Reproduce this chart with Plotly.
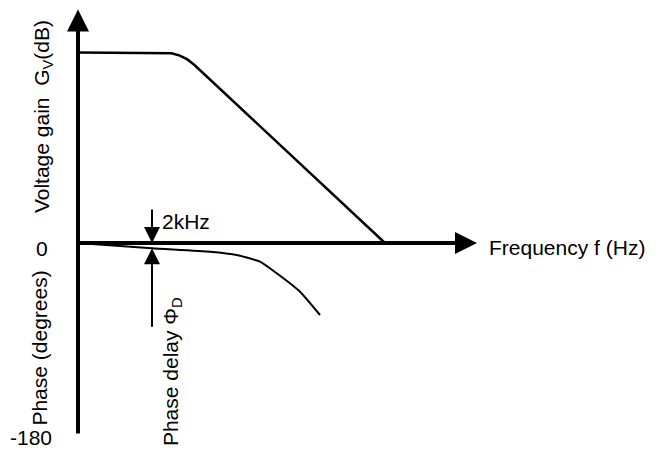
import plotly.graph_objects as go

# Schematic Bode-style diagram (arbitrary frequency units on x; gain / phase in degrees on y)
gain_f = [0, 85, 93.7, 101.8, 109.3, 116.2, 307]
gain_db = [178.6, 178.6, 177.9, 175.7, 172.1, 167.1, 0]
phase_f = [0, 73.7, 132, 158.7, 182, 198.7, 222, 242]
phase_deg = [0, -5.0, -8.2, -11.25, -17.5, -28.4, -45.7, -67.5]

f_2k = 74
phase_at_2k = -5.0
freq_axis_end = 399
vert_axis_top = 219
phase_min = -180
tick_labels = ["0", "-180"]
tick_values = [0, -180]

FONT = "Liberation Sans, Arial, sans-serif"
BLACK = "#000000"

fig = go.Figure()
fig.add_trace(go.Scatter(x=gain_f, y=gain_db, mode="lines",
                         line=dict(color=BLACK, width=2.5), hoverinfo="skip", showlegend=False))
fig.add_trace(go.Scatter(x=phase_f, y=phase_deg, mode="lines",
                         line=dict(color=BLACK, width=2, shape="spline", smoothing=0.5),
                         hoverinfo="skip", showlegend=False))

ann = []
# vertical axis with arrow
ann.append(dict(x=0, y=vert_axis_top, ax=0, ay=phase_min, xref="x", yref="y", axref="x", ayref="y",
                text="", showarrow=True, arrowhead=2, arrowsize=1.1, arrowwidth=4, arrowcolor=BLACK, standoff=0))
# horizontal axis with arrow
ann.append(dict(x=freq_axis_end, y=0, ax=0, ay=0, xref="x", yref="y", axref="x", ayref="y",
                text="", showarrow=True, arrowhead=2, arrowsize=1.1, arrowwidth=4, arrowcolor=BLACK, standoff=0))
# 2kHz arrow (downward)
ann.append(dict(x=f_2k, y=0, ax=f_2k, ay=32.8, xref="x", yref="y", axref="x", ayref="y",
                text="", showarrow=True, arrowhead=2, arrowsize=1.6, arrowwidth=2, arrowcolor=BLACK, standoff=0))
# phase delay arrow (upward)
ann.append(dict(x=f_2k, y=phase_at_2k, ax=f_2k, ay=-80, xref="x", yref="y", axref="x", ayref="y",
                text="", showarrow=True, arrowhead=2, arrowsize=1.6, arrowwidth=2, arrowcolor=BLACK, standoff=0))

tf = dict(family=FONT, size=21, color=BLACK)
ann.append(dict(x=82, y=20.6, xref="x", yref="y", text="2kHz", showarrow=False, xanchor="left", font=tf))
ann.append(dict(x=409, y=-3.8, xref="x", yref="y", text="Frequency f (Hz)", showarrow=False, xanchor="left", font=tf))
ann.append(dict(x=-28, y=-4.7, xref="x", yref="y", text=tick_labels[0], showarrow=False, xanchor="right", font=tf))
ann.append(dict(x=-24, y=-181.9, xref="x", yref="y", text=tick_labels[1], showarrow=False, xanchor="right", font=tf))
ann.append(dict(x=-35, y=118, xref="x", yref="y", text="Voltage gain  G<sub>V</sub>(dB)", showarrow=False,
                textangle=-90, font=tf))
ann.append(dict(x=-38, y=-99, xref="x", yref="y", text="Phase (degrees)", showarrow=False,
                textangle=-90, font=tf))
ann.append(dict(x=94, y=-121, xref="x", yref="y", text="Phase delay Φ<sub>D</sub>", showarrow=False,
                textangle=-90, font=tf))

fig.update_layout(
    width=664, height=450,
    margin=dict(l=0, r=0, t=0, b=0),
    paper_bgcolor="white", plot_bgcolor="white",
    xaxis=dict(range=[-78, 586], visible=False, fixedrange=True),
    yaxis=dict(range=[-194.06, 227.8], visible=False, fixedrange=True),
    annotations=ann,
    showlegend=False,
)

fig.write_html("out.html", config={"displayModeBar": False},
               post_script="document.body.style.margin='0px';")
